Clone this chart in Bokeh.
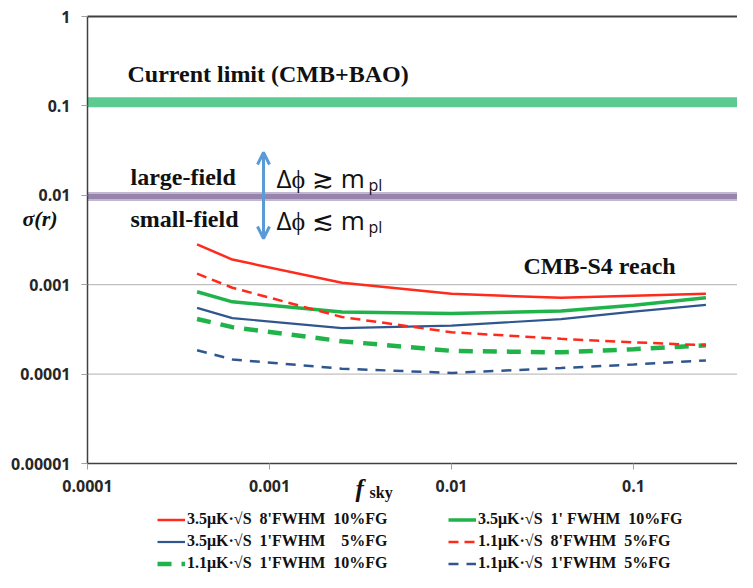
from bokeh.plotting import figure
from bokeh.models import (Legend, LegendItem, Label, Arrow, OpenHead,
                          FixedTicker, CustomJSTickFormatter)
from bokeh.embed import file_html
from bokeh.resources import INLINE

# ---------------- data ----------------
fsky = [0.0004, 0.000625, 0.0025, 0.01, 0.04, 0.1, 0.25]

s35_8_10 = [0.00283, 0.00191, 0.00105, 0.00079, 0.000713, 0.00075, 0.00079]   # red solid
s35_1_10 = [0.000834, 0.000643, 0.000495, 0.000476, 0.000508, 0.00059, 0.000713]  # green solid
s35_1_5 = [0.00055, 0.000423, 0.000327, 0.000348, 0.000413, 0.00050, 0.000594]   # blue solid
s11_8_5 = [0.00133, 0.000925, 0.000435, 0.000294, 0.000248, 0.000227, 0.00021]   # red dashed
s11_1_10 = [0.000413, 0.000335, 0.000233, 0.000182, 0.000175, 0.00019, 0.00021]  # green dashed
s11_1_5 = [0.000185, 0.000146, 0.000115, 0.000103, 0.000117, 0.000128, 0.000142]  # blue dashed

NB = "\u00a0"
labels = [
    "3.5\u03bcK\u00b7\u221aS" + NB * 2 + "8'FWHM" + NB * 2 + "10%FG",
    "3.5\u03bcK\u00b7\u221aS" + NB * 2 + "1'FWHM" + NB * 4 + "5%FG",
    "1.1\u03bcK\u00b7\u221aS" + NB * 2 + "1'FWHM" + NB * 2 + "10%FG",
    "3.5\u03bcK\u00b7\u221aS" + NB * 2 + "1'" + NB + "FWHM" + NB * 2 + "10%FG",
    "1.1\u03bcK\u00b7\u221aS" + NB * 2 + "8'FWHM" + NB * 2 + "5%FG",
    "1.1\u03bcK\u00b7\u221aS" + NB * 2 + "1'FWHM" + NB * 2 + "5%FG",
]

x_ticks = [1e-4, 1e-3, 1e-2, 1e-1]
y_ticks = [1e-5, 1e-4, 1e-3, 1e-2, 1e-1, 1]
X_MIN, Y_MIN, Y_MAX = 1e-4, 1e-5, 1.0

CURRENT_LIMIT = 0.11
FIELD_BOUNDARY = 0.0097

RED = "#ff2a1c"
GREEN = "#1fb34a"
BLUE = "#30568f"

# ---------------- geometry (pixels of the canvas) ----------------
W, H = 737, 572
LEFT, TOP, BOTTOM = 87, 16, 463
DEC_X = 182.0
DEC_Y = (BOTTOM - TOP) / 5.0
X_END = 10 ** (-4 + (W - LEFT) / DEC_X)


def lx(px):
    return 10 ** (-4 + (px - LEFT) / DEC_X)


def ly(py):
    return 10 ** (-(py - TOP) / DEC_Y)


p = figure(width=W, height=H, x_axis_type="log", y_axis_type="log",
           x_range=(lx(0), lx(W)), y_range=(ly(H), ly(0)),
           output_backend="svg", toolbar_location=None,
           min_border_left=0, min_border_right=0, min_border_top=0, min_border_bottom=0)
p.outline_line_color = None
p.background_fill_color = "white"
p.border_fill_color = "white"
p.grid.visible = False

fmt = CustomJSTickFormatter(code="""
if (tick >= 1) { return '1'; }
return tick.toFixed(Math.round(-Math.log10(tick)));
""")
xa, ya = p.xaxis[0], p.yaxis[0]
xa.fixed_location = Y_MIN
xa.bounds = (X_MIN, X_END)
ya.fixed_location = X_MIN
ya.bounds = (Y_MIN, Y_MAX)
for ax, ticks in ((xa, x_ticks), (ya, y_ticks)):
    ax.ticker = FixedTicker(ticks=ticks)
    ax.formatter = fmt
    ax.minor_tick_line_color = None
    ax.major_tick_out = 6
    ax.major_tick_in = 0
    ax.major_tick_line_color = "#a0a0a0"
    ax.axis_line_color = "#404040"
    ax.axis_line_width = 1.5
    ax.major_label_text_font = "Open Sans"
    ax.major_label_text_font_style = "bold"
    ax.major_label_text_font_size = "16px"
    ax.major_label_text_color = "#262626"
xa.major_label_standoff = 10
ya.major_label_standoff = 11

# horizontal gridlines across the plotting area
p.segment(x0=X_MIN, x1=X_END, y0=y_ticks[:-1], y1=y_ticks[:-1], line_color="#b0b0b0", line_width=1)
# top border line
p.segment(x0=X_MIN, x1=X_END, y0=Y_MAX, y1=Y_MAX, line_color="#404040", line_width=2)

# bands
p.segment(x0=X_MIN, x1=X_END, y0=CURRENT_LIMIT, y1=CURRENT_LIMIT, line_color="#5ccb91", line_width=10)
p.segment(x0=X_MIN, x1=X_END, y0=FIELD_BOUNDARY, y1=FIELD_BOUNDARY, line_color="#c2b7d1", line_width=9)
p.segment(x0=X_MIN, x1=X_END, y0=FIELD_BOUNDARY, y1=FIELD_BOUNDARY, line_color="#9784ac", line_width=5)

# curves
r1 = p.line(fsky, s35_8_10, line_color=RED, line_width=2.5)
r2 = p.line(fsky, s35_1_5, line_color=BLUE, line_width=2.2)
r3 = p.line(fsky, s11_1_10, line_color=GREEN, line_width=4.5, line_dash="14 10")
r4 = p.line(fsky, s35_1_10, line_color=GREEN, line_width=3.5)
r5 = p.line(fsky, s11_8_5, line_color=RED, line_width=2.5, line_dash="10 6")
r6 = p.line(fsky, s11_1_5, line_color=BLUE, line_width=2.5, line_dash="10 8")

serif = dict(text_font="Liberation Serif", text_font_style="bold", text_color="#111111",
             text_baseline="middle")
p.add_layout(Label(x=lx(127), y=ly(73), text="Current limit (CMB+BAO)", text_font_size="24px", **serif))
p.add_layout(Label(x=lx(130), y=ly(176), text="large-field", text_font_size="24px", **serif))
p.add_layout(Label(x=lx(130), y=ly(218), text="small-field", text_font_size="24px", **serif))
p.add_layout(Label(x=lx(523), y=ly(265), text="CMB-S4 reach", text_font_size="24px", **serif))

sans = dict(text_font="Open Sans", text_color="#111111", text_baseline="middle")
p.add_layout(Label(x=lx(276), y=ly(177), text="\u0394\u03d5 \u2273 m", text_font_size="26px", **sans))
p.add_layout(Label(x=lx(368), y=ly(184), text="pl", text_font_size="16px", **sans))
p.add_layout(Label(x=lx(276), y=ly(219), text="\u0394\u03d5 \u2272 m", text_font_size="26px", **sans))
p.add_layout(Label(x=lx(368), y=ly(226), text="pl", text_font_size="16px", **sans))

head_kw = dict(size=12, line_color="#5b9bd5", line_width=3)
p.add_layout(Arrow(start=OpenHead(**head_kw), end=OpenHead(**head_kw),
                   x_start=lx(263), y_start=ly(238), x_end=lx(263), y_end=ly(152),
                   line_color="#5b9bd5", line_width=3))

# axis titles
p.add_layout(Label(x=lx(22), y=ly(218), text="\u03c3(r)", text_font="Liberation Serif",
                   text_font_style="bold italic", text_font_size="22px", text_color="#111111",
                   text_baseline="middle"))
p.add_layout(Label(x=lx(355), y=ly(488), text="f", text_font="Liberation Serif",
                   text_font_style="bold italic", text_font_size="25px", text_color="#111111",
                   text_baseline="middle"))
p.add_layout(Label(x=lx(369), y=ly(492), text="sky", text_font="Liberation Serif",
                   text_font_style="bold", text_font_size="16px", text_color="#111111",
                   text_baseline="middle"))

leg_kw = dict(orientation="vertical", border_line_color=None, background_fill_alpha=0,
              label_text_font="Liberation Serif", label_text_font_style="bold",
              label_text_font_size="16px", label_text_color="#111111",
              glyph_width=28, glyph_height=17, label_height=17, label_standoff=2,
              spacing=4, padding=0, margin=0)
p.add_layout(Legend(items=[LegendItem(label=labels[0], renderers=[r1]),
                           LegendItem(label=labels[1], renderers=[r2]),
                           LegendItem(label=labels[2], renderers=[r3])],
                    location=(157, 0), **leg_kw))
p.add_layout(Legend(items=[LegendItem(label=labels[3], renderers=[r4]),
                           LegendItem(label=labels[4], renderers=[r5]),
                           LegendItem(label=labels[5], renderers=[r6])],
                    location=(448, 0), **leg_kw))

open("out.html", "w").write(file_html(p, INLINE))
